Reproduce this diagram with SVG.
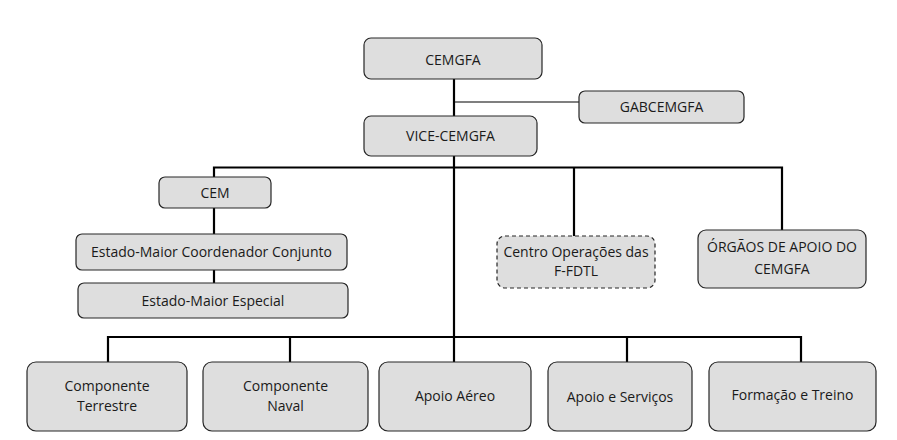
<svg xmlns="http://www.w3.org/2000/svg" width="897" height="440" viewBox="0 0 897 440">
<style>
.b{fill:#dedede;stroke:#262626;stroke-width:1.2}
.d{fill:#dedede;stroke:#262626;stroke-width:1.2;stroke-dasharray:4 3}
.t{font-family:"Open Sans","Liberation Sans",Arial,sans-serif;font-size:14px;fill:#1a1a1a;text-anchor:middle}
.c{stroke:#000;stroke-width:2.2;fill:none}
.c1{stroke:#000;stroke-width:1.2;fill:none}
</style>
<rect width="897" height="440" fill="#fff"/>
<g id="connectors">
<line class="c" x1="454" y1="79" x2="454" y2="116"/>
<line class="c1" x1="455" y1="102" x2="579" y2="102"/>
<line class="c" x1="454" y1="156" x2="454" y2="363"/>
<polyline class="c" points="214,177 214,167.5 782,167.5 782,230"/>
<line class="c" x1="574" y1="167" x2="574" y2="236"/>
<line class="c" x1="214" y1="208" x2="214" y2="234"/>
<line class="c" x1="214" y1="270" x2="214" y2="283"/>
<polyline class="c" points="108,362 108,337 801,337 801,362"/>
<line class="c" x1="290" y1="337" x2="290" y2="362"/>
<line class="c" x1="627" y1="337" x2="627" y2="362"/>
</g>
<g id="cemgfa"><rect class="b" x="364" y="38" width="178" height="41" rx="7"/><text class="t" x="453" y="65">CEMGFA</text></g>
<g id="gabcemgfa"><rect class="b" x="579" y="91" width="165" height="32" rx="6"/><text class="t" x="661.5" y="112">GABCEMGFA</text></g>
<g id="vice"><rect class="b" x="364" y="116" width="173" height="40" rx="7"/><text class="t" x="450.5" y="141">VICE-CEMGFA</text></g>
<g id="cem"><rect class="b" x="159" y="177" width="112" height="31" rx="6"/><text class="t" x="215" y="197.5">CEM</text></g>
<g id="emcc"><rect class="b" x="76" y="234" width="271" height="36" rx="6"/><text class="t" x="211.5" y="257">Estado-Maior Coordenador Conjunto</text></g>
<g id="eme"><rect class="b" x="78" y="283" width="270" height="35" rx="6"/><text class="t" x="213" y="305.5">Estado-Maior Especial</text></g>
<g id="centro"><rect class="d" x="497" y="236" width="158" height="52" rx="8"/><text class="t" x="576" y="257">Centro Operações das</text><text class="t" x="576" y="276">F-FDTL</text></g>
<g id="orgaos"><rect class="b" x="698" y="230" width="168" height="58" rx="8"/><text class="t" x="782" y="252">ÓRGÃOS DE APOIO DO</text><text class="t" x="782" y="274">CEMGFA</text></g>
<g id="terrestre"><rect class="b" x="27" y="362" width="160" height="69" rx="9"/><text class="t" x="107" y="391">Componente</text><text class="t" x="107" y="411">Terrestre</text></g>
<g id="naval"><rect class="b" x="203" y="362" width="165" height="69" rx="9"/><text class="t" x="285.5" y="391">Componente</text><text class="t" x="285.5" y="411">Naval</text></g>
<g id="aereo"><rect class="b" x="379" y="362" width="152" height="69" rx="9"/><text class="t" x="455" y="401">Apoio Aéreo</text></g>
<g id="servicos"><rect class="b" x="548" y="362" width="144" height="69" rx="9"/><text class="t" x="620" y="402">Apoio e Serviços</text></g>
<g id="formacao"><rect class="b" x="709" y="362" width="167" height="69" rx="9"/><text class="t" x="792.5" y="400">Formação e Treino</text></g>
</svg>
